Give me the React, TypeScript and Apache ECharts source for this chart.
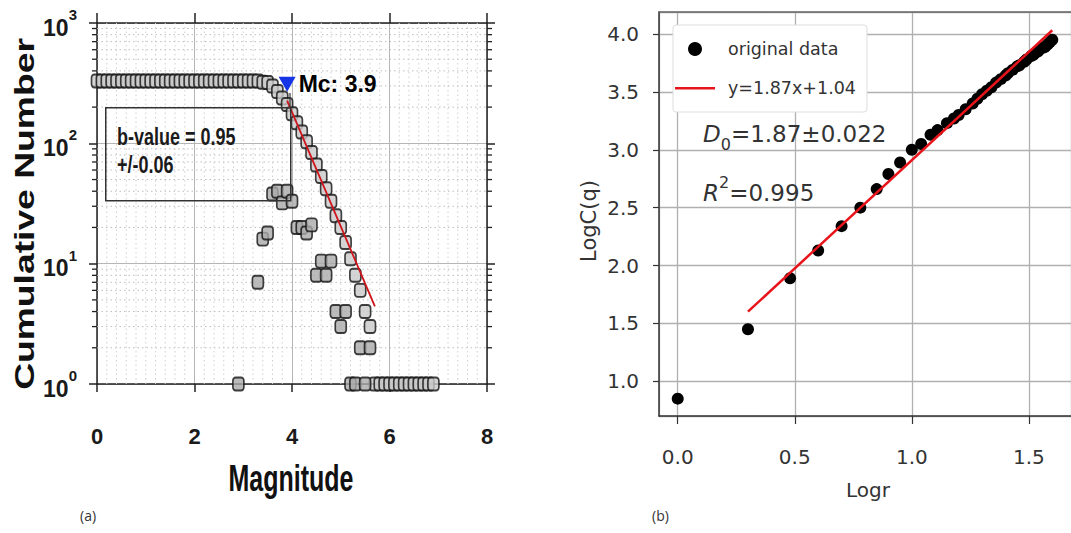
import React, { useEffect, useRef } from "react";
import * as echarts from "echarts";

// ---------- Panel (a): frequency–magnitude distribution ----------
const cumMagnitudes = [
  0.0, 0.1, 0.2, 0.3, 0.4, 0.5, 0.6, 0.7, 0.8, 0.9,
  1.0, 1.1, 1.2, 1.3, 1.4, 1.5, 1.6, 1.7, 1.8, 1.9,
  2.0, 2.1, 2.2, 2.3, 2.4, 2.5, 2.6, 2.7, 2.8, 2.9,
  3.0, 3.1, 3.2, 3.3, 3.4, 3.5, 3.6, 3.7, 3.8, 3.9,
  4.0, 4.1, 4.2, 4.3, 4.4, 4.5, 4.6, 4.7, 4.8, 4.9,
  5.0, 5.1, 5.2, 5.3, 5.4, 5.5, 5.6, 5.7, 5.8, 5.9,
  6.0, 6.1, 6.2, 6.3, 6.4, 6.5, 6.6, 6.7, 6.8, 6.9,
];
const cumCounts = [
  330, 330, 330, 330, 330, 330, 330, 330, 330, 330,
  330, 330, 330, 330, 330, 330, 330, 330, 330, 330,
  330, 330, 330, 330, 330, 330, 330, 330, 330, 330,
  329, 329, 329, 329, 322, 320, 300, 270, 238, 210,
  176, 148, 124, 103, 84, 66, 53, 42, 33, 25,
  20, 15, 11, 8, 6, 4, 3, 1, 1, 1,
  1, 1, 1, 1, 1, 1, 1, 1, 1, 1,
];
const binMagnitudes = [2.9, 3.3, 3.4, 3.5, 3.6, 3.7, 3.8, 3.9, 4.0, 4.1, 4.2, 4.3, 4.4, 4.5, 4.6, 4.7, 4.8, 4.9, 5.0, 5.1, 5.2, 5.3, 5.4, 5.5, 5.6];
const binCounts = [1, 7, 16, 18, 38, 40, 32, 40, 33, 20, 20, 18, 21, 8, 10.5, 8, 10.5, 4, 3, 4, 1, 1, 2, 1, 2];
const mcMagnitude = 3.9;
const mcCount = 310;
const bValue = 0.95;
const bError = 0.06;
const aValue = 6.06;
const fitMagRange = [3.9, 5.7];
const magMin = 0;
const magMax = 8;
const magStep = 2;
const countMin = 1;
const countMax = 1000;
const minorCountTicks = [2, 3, 4, 5, 6, 7, 8, 9, 20, 30, 40, 50, 60, 70, 80, 90, 200, 300, 400, 500, 600, 700, 800, 900];
const minorMagGrid = [
  0.2, 0.4, 0.6, 0.8, 1.0, 1.2, 1.4, 1.6, 1.8, 2.2, 2.4, 2.6, 2.8, 3.0, 3.2, 3.4, 3.6, 3.8,
  4.2, 4.4, 4.6, 4.8, 5.0, 5.2, 5.4, 5.6, 5.8, 6.2, 6.4, 6.6, 6.8, 7.0, 7.2, 7.4, 7.6, 7.8,
];

// ---------- Panel (b): correlation dimension ----------
const logr = [0, 0.30, 0.48, 0.60, 0.70, 0.78, 0.85, 0.90, 0.95, 1.00, 1.04, 1.08, 1.11, 1.15, 1.18, 1.20, 1.23, 1.26, 1.28, 1.30, 1.32, 1.34, 1.36, 1.38, 1.40, 1.41, 1.43, 1.45, 1.46, 1.48, 1.49, 1.51, 1.52, 1.53, 1.54, 1.56, 1.57, 1.58, 1.59, 1.60];
const logC = [0.85, 1.45, 1.89, 2.13, 2.34, 2.50, 2.66, 2.79, 2.89, 3.00, 3.05, 3.13, 3.17, 3.23, 3.27, 3.30, 3.35, 3.40, 3.44, 3.48, 3.51, 3.54, 3.58, 3.61, 3.64, 3.66, 3.69, 3.72, 3.73, 3.76, 3.78, 3.81, 3.82, 3.84, 3.85, 3.88, 3.89, 3.91, 3.93, 3.95];
const fitSlope = 1.87;
const fitIntercept = 1.04;
const fitLogrRange = [0.3, 1.6];
const d0Error = 0.022;
const rSquared = 0.995;
const logrMin = -0.08;
const logrMax = 1.68;
const logCMin = 0.7;
const logCMax = 4.19;

const SANS = "'Liberation Sans', Arial, sans-serif";
const DV = "'DejaVu Sans', Verdana, sans-serif";

export default function App() {
  const ref = useRef<HTMLDivElement>(null);

  useEffect(() => {
    if (!ref.current) return;
    const chart = echarts.init(ref.current, undefined, { renderer: "svg" });

    const cumData = cumMagnitudes.map((m, i) => [m, cumCounts[i]]);
    const binData = binMagnitudes.map((m, i) => [m, binCounts[i]]);
    const fitA = fitMagRange.map((m) => [m, Math.pow(10, aValue - bValue * m)]);
    const scatterB = logr.map((x, i) => [x, logC[i]]);
    const fitB = fitLogrRange.map((x) => [x, fitSlope * x + fitIntercept]);
    const fitName = `y=${fitSlope}x+${fitIntercept}`;

    const option: any = {
      animation: false,
      backgroundColor: "#ffffff",
      grid: [
        { left: 97, top: 23, width: 390, height: 361 },
        { left: 659, top: 12, width: 422, height: 404 },
      ],
      legend: {
        data: [
          { name: "original data", icon: "circle" },
          { name: fitName, icon: "path://M0,0 M0,14 M0,6 L40,6 L40,8.5 L0,8.5 Z" },
        ],
        orient: "vertical",
        left: 673,
        top: 25,
        itemWidth: 40,
        itemHeight: 14,
        itemGap: 21,
        backgroundColor: "#ffffff",
        borderColor: "#dddddd",
        borderWidth: 1,
        borderRadius: 3,
        padding: [15, 11, 15, 2],
        textStyle: { fontFamily: DV, fontSize: 17.5, color: "#333", padding: [0, 0, 0, 8] },
      },
      xAxis: [
        {
          gridIndex: 0, type: "value", min: magMin, max: magMax, interval: magStep, position: "bottom",
          axisLine: { show: true, onZero: false, lineStyle: { color: "#222", width: 1.5 } },
          axisTick: { show: true, inside: false, length: 8, lineStyle: { color: "#222", width: 1.5 } },
          axisLabel: { fontFamily: SANS, fontWeight: "bold", fontSize: 22, color: "#1a1a1a", margin: 41 },
          splitLine: { show: true, lineStyle: { color: "#b5b5b5", width: 1 } },
        },
        {
          gridIndex: 0, type: "value", min: magMin, max: magMax, interval: magStep, position: "top",
          axisLine: { show: true, onZero: false, lineStyle: { color: "#222", width: 1.5 } },
          axisTick: { show: true, inside: false, length: 10, lineStyle: { color: "#222", width: 1.5 } },
          axisLabel: { show: false },
          splitLine: { show: false },
        },
        {
          gridIndex: 1, type: "value", min: logrMin, max: logrMax, splitNumber: 4, position: "bottom",
          axisLine: { show: true, onZero: false, lineStyle: { color: "#333", width: 1.5 } },
          axisTick: { show: true, inside: false, length: 8, lineStyle: { color: "#333", width: 1.2 } },
          axisLabel: {
            fontFamily: DV, fontSize: 20, color: "#333", margin: 31,
            showMinLabel: false, showMaxLabel: false,
            formatter: (v: number) => v.toFixed(1),
          },
          splitLine: { show: true, lineStyle: { color: "#b0b0b0", width: 1.3 } },
        },
        {
          gridIndex: 1, type: "value", min: logrMin, max: logrMax, position: "top",
          axisLine: { show: true, onZero: false, lineStyle: { color: "#666", width: 1.5 } },
          axisTick: { show: false }, axisLabel: { show: false }, splitLine: { show: false },
        },
      ],
      yAxis: [
        {
          gridIndex: 0, type: "log", logBase: 10, min: countMin, max: countMax, position: "left",
          axisLine: { show: true, onZero: false, lineStyle: { color: "#222", width: 1.5 } },
          axisTick: { show: true, inside: false, length: 8, lineStyle: { color: "#222", width: 1.5 } },
          axisLabel: {
            margin: 20,
            formatter: (v: number) => `{b|10}{s|${Math.round(Math.log10(v))}}`,
            rich: {
              b: { fontFamily: SANS, fontWeight: "bold", fontSize: 23, color: "#1a1a1a", lineHeight: 32, verticalAlign: "bottom" },
              s: { fontFamily: SANS, fontWeight: "bold", fontSize: 15, color: "#1a1a1a", lineHeight: 15, verticalAlign: "top" },
            },
          },
          splitLine: { show: true, lineStyle: { color: "#b5b5b5", width: 1 } },
        },
        {
          gridIndex: 0, type: "log", logBase: 10, min: countMin, max: countMax, position: "right",
          axisLine: { show: true, onZero: false, lineStyle: { color: "#222", width: 1.5 } },
          axisTick: { show: true, inside: false, length: 8, lineStyle: { color: "#222", width: 1.5 } },
          axisLabel: { show: false },
          splitLine: { show: false },
        },
        {
          gridIndex: 1, type: "value", min: logCMin, max: logCMax, splitNumber: 6, position: "left",
          axisLine: { show: true, onZero: false, lineStyle: { color: "#333", width: 1.5 } },
          axisTick: { show: true, inside: false, length: 6, lineStyle: { color: "#333", width: 1.2 } },
          axisLabel: {
            fontFamily: DV, fontSize: 20, color: "#333", margin: 20,
            showMinLabel: false, showMaxLabel: false,
            formatter: (v: number) => v.toFixed(1),
          },
          splitLine: { show: true, lineStyle: { color: "#b0b0b0", width: 1.3 } },
        },
      ],
      series: [
        {
          name: "minorGridY", type: "custom", xAxisIndex: 0, yAxisIndex: 0, clip: false, silent: true, z: 1,
          data: minorCountTicks.map((v) => [magMin, v]),
          renderItem: (_p: any, api: any) => {
            const v = api.value(1);
            const a = api.coord([magMin, v]);
            const b = api.coord([magMax, v]);
            return {
              type: "group",
              children: [
                { type: "line", shape: { x1: a[0], y1: a[1], x2: b[0], y2: b[1] }, style: { stroke: "#bdbdbd", lineWidth: 1, lineDash: [1.5, 3] } },
                { type: "line", shape: { x1: a[0] - 5, y1: a[1], x2: a[0], y2: a[1] }, style: { stroke: "#222", lineWidth: 1.3 } },
                { type: "line", shape: { x1: b[0], y1: b[1], x2: b[0] + 5, y2: b[1] }, style: { stroke: "#222", lineWidth: 1.3 } },
              ],
            };
          },
        },
        {
          name: "minorGridX", type: "custom", xAxisIndex: 0, yAxisIndex: 0, clip: true, silent: true, z: 1,
          data: minorMagGrid.map((m) => [m, countMin]),
          renderItem: (_p: any, api: any) => {
            const m = api.value(0);
            const a = api.coord([m, countMin]);
            const b = api.coord([m, countMax]);
            return { type: "line", shape: { x1: a[0], y1: a[1], x2: b[0], y2: b[1] }, style: { stroke: "#d0d0d0", lineWidth: 1, lineDash: [1.5, 3] } };
          },
        },
        {
          name: "cumulative", type: "scatter", xAxisIndex: 0, yAxisIndex: 0, data: cumData,
          symbol: "roundRect", symbolSize: [11, 13], z: 3,
          itemStyle: { color: "#c9c9c9", borderColor: "#111", borderWidth: 1.8 },
        },
        {
          name: "non-cumulative", type: "scatter", xAxisIndex: 0, yAxisIndex: 0, data: binData,
          symbol: "roundRect", symbolSize: [11, 13], z: 3,
          itemStyle: { color: "#aaaaaa", borderColor: "#111", borderWidth: 1.8 },
        },
        {
          name: "b-fit", type: "line", xAxisIndex: 0, yAxisIndex: 0, data: fitA, symbol: "none", z: 4,
          lineStyle: { color: "#d0141b", width: 1.8 },
        },
        {
          name: "Mc", type: "scatter", xAxisIndex: 0, yAxisIndex: 0, data: [[mcMagnitude, mcCount]],
          symbol: "triangle", symbolRotate: 180, symbolSize: [17, 15], z: 5,
          itemStyle: { color: "#1534e6", opacity: 1 },
          label: {
            show: true, position: "right", distance: 3,
            formatter: `Mc: ${mcMagnitude}`,
            fontFamily: SANS, fontWeight: "bold", fontSize: 23, color: "#000000", opacity: 1,
            textBorderWidth: 0,
          },
        },
        {
          name: "original data", type: "scatter", xAxisIndex: 2, yAxisIndex: 2, data: scatterB,
          symbol: "circle", symbolSize: 12, z: 3, itemStyle: { color: "#000", opacity: 1 },
        },
        {
          name: fitName, type: "line", xAxisIndex: 2, yAxisIndex: 2, data: fitB, symbol: "none", z: 4,
          lineStyle: { color: "#e8141b", width: 2.5 },
          itemStyle: { color: "#e8141b" },
        },
      ],
      graphic: [
        // b-value annotation box
        { type: "rect", left: 105, top: 107, shape: { width: 185, height: 93 }, style: { fill: "rgba(255,255,255,0)", stroke: "#333", lineWidth: 1.5 }, z: 10 },
        { type: "line", shape: { x1: 290, y1: 93, x2: 290, y2: 107 }, style: { stroke: "#333", lineWidth: 1.2 }, z: 10 },
        {
          type: "text", x: 117, y: 123, scaleY: 1.35, z: 11,
          style: { text: `b-value = ${bValue}\n+/-${bError.toFixed(2)}`, fontFamily: SANS, fontWeight: "bold", fontSize: 18, lineHeight: 21, fill: "#1a1a1a", verticalAlign: "top" },
        },
        // panel (a) axis names
        {
          type: "text", x: 25, y: 214, rotation: Math.PI / 2, scaleX: 1.38, z: 11,
          style: { text: "Cumulative Number", fontFamily: SANS, fontWeight: "bold", fontSize: 27, fill: "#111", align: "center", verticalAlign: "middle" },
        },
        {
          type: "text", x: 291, y: 479, scaleY: 1.45, z: 11,
          style: { text: "Magnitude", fontFamily: SANS, fontWeight: "bold", fontSize: 25, fill: "#111", align: "center", verticalAlign: "middle" },
        },
        { type: "text", left: 80, top: 508, style: { text: "(a)", fontFamily: "'Open Sans', sans-serif", fontSize: 14, fill: "#333" } },
        // panel (b) texts
        {
          type: "text", x: 589, y: 221, rotation: Math.PI / 2, z: 11,
          style: { text: "LogC(q)", fontFamily: DV, fontSize: 21, fill: "#333", align: "center", verticalAlign: "middle" },
        },
        {
          type: "text", x: 868, y: 490, z: 11,
          style: { text: "Logr", fontFamily: DV, fontSize: 20, fill: "#333", align: "center", verticalAlign: "middle" },
        },
        {
          type: "text", left: 703, top: 122, z: 11,
          style: {
            text: `{i|D}{s|0}{n|=${fitSlope}±${d0Error}}`,
            rich: {
              i: { fontFamily: DV, fontStyle: "italic", fontSize: 23, fill: "#333", lineHeight: 30, verticalAlign: "top" },
              s: { fontFamily: DV, fontSize: 16, fill: "#333", lineHeight: 30, verticalAlign: "bottom", padding: [10, 0, 0, 0] },
              n: { fontFamily: DV, fontSize: 23, fill: "#333", lineHeight: 30, verticalAlign: "top" },
            },
          },
        },
        {
          type: "text", left: 703, top: 174, z: 11,
          style: {
            text: `{i|R}{s|2}{n|=${rSquared}}`,
            rich: {
              i: { fontFamily: DV, fontStyle: "italic", fontSize: 23, fill: "#333", lineHeight: 30, verticalAlign: "bottom" },
              s: { fontFamily: DV, fontSize: 16, fill: "#333", lineHeight: 16, verticalAlign: "top" },
              n: { fontFamily: DV, fontSize: 23, fill: "#333", lineHeight: 30, verticalAlign: "bottom" },
            },
          },
        },
        { type: "text", left: 652, top: 508, style: { text: "(b)", fontFamily: "'Open Sans', sans-serif", fontSize: 14, fill: "#333" } },
      ],
    };

    chart.setOption(option);
    return () => chart.dispose();
  }, []);

  return (
    <div
      ref={ref}
      style={{ position: "fixed", left: 0, top: 0, width: 1071, height: 533, background: "#fff" }}
    />
  );
}
